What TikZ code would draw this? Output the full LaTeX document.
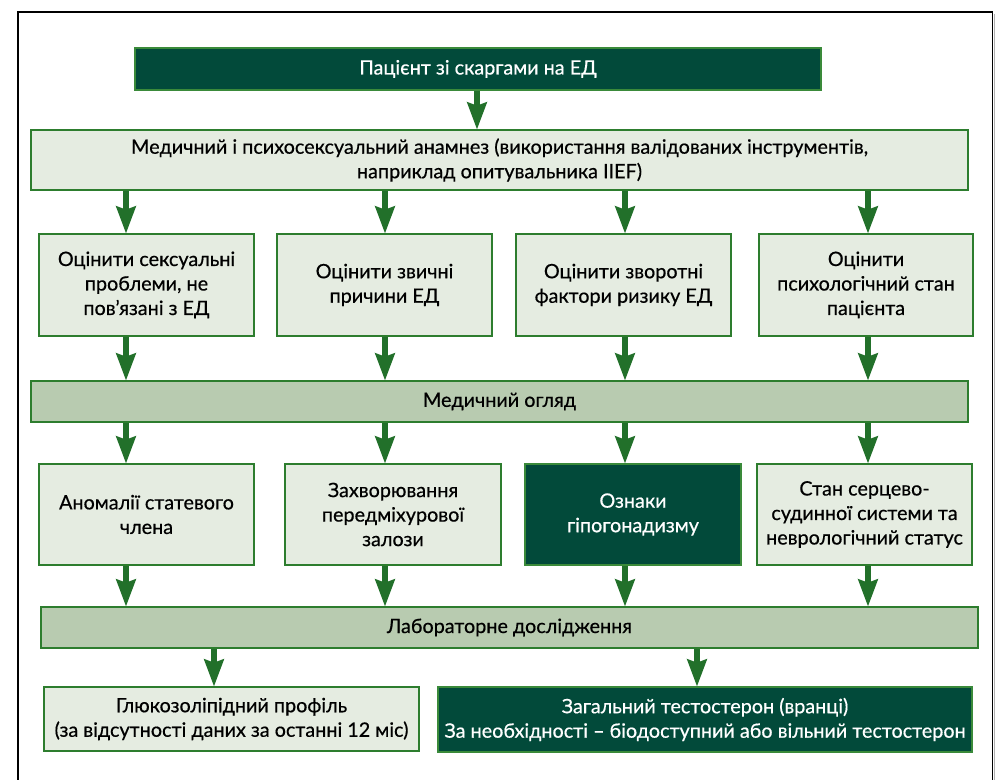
\documentclass[tikz,border=0pt]{standalone}
\usepackage{fontspec}
\setmainfont{Lato}[FakeBold=0.5]
\usetikzlibrary{arrows.meta}
\definecolor{darkfill}{RGB}{2,74,58}
\definecolor{darkedge}{RGB}{58,138,58}
\definecolor{lightfill}{RGB}{229,236,225}
\definecolor{lightedge}{RGB}{45,125,46}
\definecolor{barfill}{RGB}{184,203,176}
\definecolor{arrowcol}{RGB}{34,112,42}
\tikzset{
  basebox/.style={rectangle, inner sep=0pt, line width=2.6pt, align=center,
    font=\fontsize{19.8}{24.5}\selectfont},
  darkbox/.style={basebox, fill=darkfill, draw=darkedge, text=white},
  lightbox/.style={basebox, fill=lightfill, draw=lightedge, text=black},
  barbox/.style={basebox, fill=barfill, draw=lightedge, text=black},
  arr/.style={draw=arrowcol, line width=6pt,
    -{Stealth[length=27pt, width=19pt, inset=3pt]}, shorten >=-1pt},
}
\begin{document}
\begin{tikzpicture}[x=1pt, y=-1pt]
\useasboundingbox (0,0) rectangle (1001,779);
% frame
\draw[line width=1.3pt, black] (18,800) -- (18,12) -- (992.5,12) -- (992.5,800);
\draw[line width=1.2pt, black!30] (994.5,14) -- (994.5,800);

% nodes
\node[darkbox, minimum width=686pt, minimum height=42pt] (top) at (478,69) {Пацієнт зі скаргами на ЕД};
\node[lightbox, minimum width=937pt, minimum height=60pt] (anam) at (499.5,160)
  {Медичний і психосексуальний анамнез (використання валідованих інструментів,\\наприклад опитувальника IIEF)};

\node[lightbox, minimum width=215pt, minimum height=102pt] (r1a) at (146.5,285) {Оцінити сексуальні\\проблеми, не\\пов’язані з ЕД};
\node[lightbox, minimum width=215pt, minimum height=102pt] (r1b) at (384.5,285) {Оцінити звичні\\причини ЕД};
\node[lightbox, minimum width=215pt, minimum height=102pt] (r1c) at (623.5,285) {Оцінити зворотні\\фактори ризику ЕД};
\node[lightbox, minimum width=214pt, minimum height=102pt] (r1d) at (866,285) {Оцінити\\психологічний стан\\пацієнта};

\node[barbox, minimum width=937pt, minimum height=41pt] (exam) at (499.5,401.5) {Медичний огляд};

\node[lightbox, minimum width=215pt, minimum height=101pt] (r2a) at (146.5,514.5) {Аномалії статевого\\члена};
\node[lightbox, minimum width=216pt, minimum height=101pt] (r2b) at (393,514.5) {Захворювання\\передміхурової\\залози};
\node[darkbox, minimum width=216pt, minimum height=101pt] (r2c) at (633,514.5) {Ознаки\\гіпогонадизму};
\node[lightbox, minimum width=215pt, minimum height=101pt] (r2d) at (864.5,514.5) {Стан серцево-\\судинної системи та\\неврологічний статус};

\node[barbox, minimum width=937pt, minimum height=41pt] (lab) at (509.5,627.5) {Лабораторне дослідження};

\node[lightbox, minimum width=375pt, minimum height=64pt] (b1) at (231.5,719) {Глюкозоліпідний профіль\\(за відсутності даних за останні 12 міс)};
\node[darkbox, minimum width=534pt, minimum height=65pt] (b2) at (705,719.5) {Загальний тестостерон (вранці)\\За необхідності – біодоступний або вільний тестостерон};

% column coordinates
\coordinate (k0) at (477,0);
\coordinate (k1) at (126,0);
\coordinate (k2) at (385,0);
\coordinate (k3) at (625,0);
\coordinate (k4) at (868,0);
\coordinate (k5) at (214,0);
\coordinate (k6) at (697,0);

% arrows
\draw[arr] (k0 |- top.south) -- (k0 |- anam.north);
\draw[arr] (k1 |- anam.south) -- (k1 |- r1a.north);
\draw[arr] (k2 |- anam.south) -- (k2 |- r1b.north);
\draw[arr] (k3 |- anam.south) -- (k3 |- r1c.north);
\draw[arr] (k4 |- anam.south) -- (k4 |- r1d.north);

\draw[arr] (k1 |- r1a.south) -- (k1 |- exam.north);
\draw[arr] (k2 |- r1b.south) -- (k2 |- exam.north);
\draw[arr] (k3 |- r1c.south) -- (k3 |- exam.north);
\draw[arr] (k4 |- r1d.south) -- (k4 |- exam.north);

\draw[arr] (k1 |- exam.south) -- (k1 |- r2a.north);
\draw[arr] (k2 |- exam.south) -- (k2 |- r2b.north);
\draw[arr] (k3 |- exam.south) -- (k3 |- r2c.north);
\draw[arr] (k4 |- exam.south) -- (k4 |- r2d.north);

\draw[arr] (k1 |- r2a.south) -- (k1 |- lab.north);
\draw[arr] (k2 |- r2b.south) -- (k2 |- lab.north);
\draw[arr] (k3 |- r2c.south) -- (k3 |- lab.north);
\draw[arr] (k4 |- r2d.south) -- (k4 |- lab.north);

\draw[arr] (k5 |- lab.south) -- (k5 |- b1.north);
\draw[arr] (k6 |- lab.south) -- (k6 |- b2.north);
\end{tikzpicture}
\end{document}
